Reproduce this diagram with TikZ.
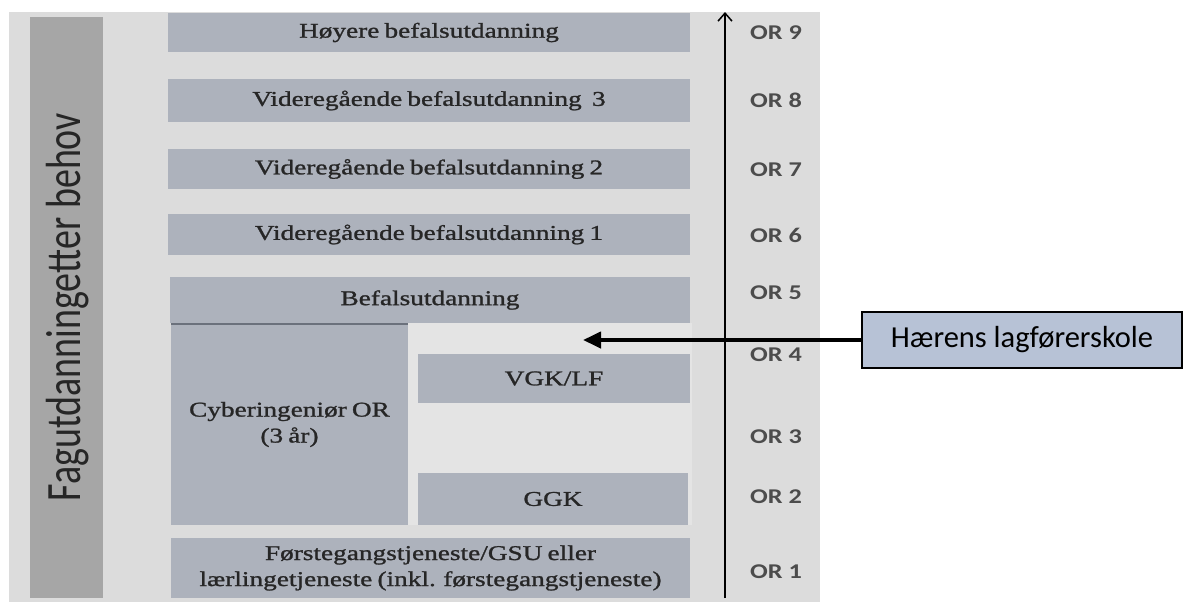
\documentclass[tikz,border=0pt]{standalone}
\usepackage{fontspec}
\usepackage{tikz}
\usetikzlibrary{arrows.meta}
\setmainfont{Liberation Serif}[FakeStretch=1.3, FakeBold=1.2, WordSpace=0.75]
\newfontfamily\orfont{Carlito}[FakeStretch=1.25]
\newfontfamily\calfont{Carlito}

\definecolor{panelgray}{HTML}{DCDCDC}
\definecolor{paleregion}{HTML}{E4E4E4}
\definecolor{sidegray}{HTML}{A6A6A6}
\definecolor{boxgray}{HTML}{ADB2BC}
\definecolor{boxline}{HTML}{6B717C}
\definecolor{boxtext}{HTML}{262626}
\definecolor{schoolblue}{HTML}{B7C2D6}

\tikzset{
    lvl/.style={fill=boxgray, inner sep=0pt, align=center, text=boxtext,
        font=\fontsize{21}{26}\selectfont},
    orlabel/.style={font=\orfont\bfseries\fontsize{21}{25}\selectfont, text=black!70},
}

\begin{document}
\begin{tikzpicture}[x=1pt, y=-1pt]
    \useasboundingbox (0,0) rectangle (1184,603);
    \fill[panelgray] (9,12) rectangle (820,602);
    \fill[paleregion] (408,323) rectangle (692,525);
    \fill[sidegray] (30,17) rectangle (103,598);
    % The side label on the dark bar.
        \node[rotate=90, text=black!85, font=\calfont\fontsize{38}{44}\selectfont] (side) at (68,307)
            {\scalebox{1}[1.3]{Fagutdanningetter behov}};
    % Below nodes are the education levels.
        \node[lvl, minimum width=522, minimum height=39] (hoy) at (429,32.5) {Høyere befalsutdanning};
        \node[lvl, minimum width=522, minimum height=43] (vid3) at (429,100.5) {Videregående befalsutdanning\ \ 3};
        \node[lvl, minimum width=522, minimum height=40] (vid2) at (429,169) {Videregående befalsutdanning 2};
        \node[lvl, minimum width=522, minimum height=41] (vid1) at (429,234.5) {Videregående befalsutdanning 1};
        \node[lvl, minimum width=520, minimum height=46] (befal) at (430,300) {Befalsutdanning};
        \node[lvl, minimum width=237, minimum height=201] (cyber) at (289.5,424.5) {Cyberingeniør OR\\(3 år)};
        \node[lvl, minimum width=272, minimum height=49] (vgk) at (554,378.5) {VGK/LF};
        \node[lvl, minimum width=270, minimum height=52] (ggk) at (553,499) {GGK};
        \node[lvl, minimum width=519, minimum height=60] (forste) at (430.5,568)
            {Førstegangstjeneste/GSU eller\\lærlingetjeneste (inkl. førstegangstjeneste)};
    % This draws the line under Befalsutdanning.
        \draw[boxline, line width=2pt] (cyber.north west) -- (cyber.north east);
    % The OR scale.
        \coordinate (scalebot) at (725,598);
        \coordinate (scaletop) at (725,12);
        \draw[line width=1.5pt, -{Straight Barb[length=8pt, width=14pt]}] (scalebot) -- (scaletop);
        \node[orlabel] (or9) at (776,33) {OR 9};
        \node[orlabel] (or8) at (776,100) {OR 8};
        \node[orlabel] (or7) at (776,170) {OR 7};
        \node[orlabel] (or6) at (776,235) {OR 6};
        \node[orlabel] (or5) at (776,293) {OR 5};
        \node[orlabel] (or4) at (776,355) {OR 4};
        \node[orlabel] (or3) at (776,437) {OR 3};
        \node[orlabel] (or2) at (776,497) {OR 2};
        \node[orlabel] (or1) at (776,572) {OR 1};
    % The school box and its arrow.
        \node[draw=black, line width=1.3pt, fill=schoolblue, minimum width=320, minimum height=56,
            inner sep=0pt, font=\calfont\fontsize{30.5}{34}\selectfont] (haerens) at (1022,340) {Hærens lagførerskole};
        \coordinate (target) at (583,340);
        \draw[line width=4pt, -{Triangle[length=18pt, width=16pt]}] (haerens.west) -- (target);
\end{tikzpicture}
\end{document}
